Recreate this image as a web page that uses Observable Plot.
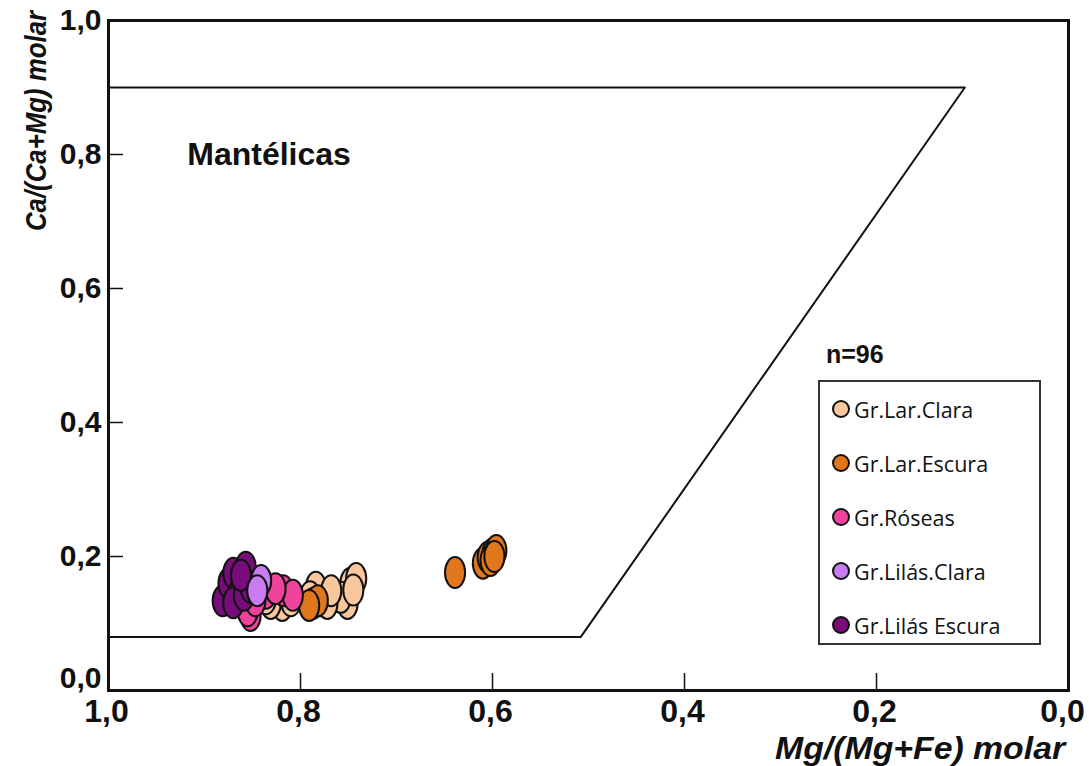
<!DOCTYPE html>
<html>
<head>
<meta charset="utf-8">
<script src="https://cdn.jsdelivr.net/npm/d3@7"></script>
<script src="https://cdn.jsdelivr.net/npm/@observablehq/plot@0.6"></script>
<style>
  html, body { margin: 0; padding: 0; background: #fff; }
  #wrap { position: relative; width: 1089px; height: 766px; overflow: hidden; }
  .ylab { position: absolute; left: 36px; top: 121px; line-height: 1; transform: translate(-50%, -50%) rotate(-90deg) scaleX(0.86);
    font: italic bold 30px "Liberation Sans", Arial, sans-serif; white-space: nowrap; color: #111; }
  .xlab { position: absolute; right: 24px; top: 731px; line-height: 1; transform-origin: right center; transform: scaleX(1.09);
    font: italic bold 31px "Liberation Sans", Arial, sans-serif; white-space: nowrap; color: #111; }
  .nlab { position: absolute; left: 826px; top: 340px; font: bold 25px "Liberation Sans", Arial, sans-serif; color: #111; }
  .legend { position: absolute; left: 818px; top: 380px; width: 223px; height: 265px; border: 2px solid #333; box-sizing: border-box; background: #fff; }
  .item { position: absolute; left: 12px; height: 26px; display: flex; align-items: center;
    font: 21.5px "Open Sans", "Liberation Sans", sans-serif; color: #111; white-space: nowrap; }
  .sw { width: 18px; height: 18px; border-radius: 50%; border: 2px solid #111; box-sizing: border-box; margin-right: 4px; }
</style>
</head>
<body>
<div id="wrap"></div>
<script>
// ---- data ----
const groups = ["Gr.Lar.Clara", "Gr.Lar.Escura", "Gr.Róseas", "Gr.Lilás.Clara", "Gr.Lilás Escura"];
const groupColors = ["#f8c79e", "#e0771c", "#f0449c", "#c97cf2", "#770c7a"];

const larClaraX = [0.748, 0.742, 0.751, 0.758, 0.779, 0.772, 0.784, 0.819, 0.831, 0.810, 0.836, 0.768, 0.745, 0.790];
const larClaraY = [0.160, 0.167, 0.130, 0.139, 0.134, 0.130, 0.154, 0.127, 0.130, 0.134, 0.137, 0.149, 0.150, 0.140];
const larEscuraX = [0.787, 0.782, 0.791, 0.639, 0.610, 0.605, 0.600, 0.596, 0.602, 0.598];
const larEscuraY = [0.130, 0.134, 0.127, 0.176, 0.190, 0.199, 0.204, 0.209, 0.194, 0.200];
const roseasX = [0.818, 0.808, 0.852, 0.855, 0.836, 0.847, 0.826];
const roseasY = [0.149, 0.142, 0.112, 0.119, 0.145, 0.134, 0.152];
const lilasClaraX = [0.841, 0.845];
const lilasClaraY = [0.164, 0.149];
const lilasEscuraX = [0.881, 0.875, 0.870, 0.857, 0.864, 0.870, 0.859, 0.852, 0.862];
const lilasEscuraY = [0.134, 0.160, 0.175, 0.184, 0.145, 0.131, 0.142, 0.154, 0.172];

const fieldX = [1.0, 0.108, 0.508, 1.0];
const fieldY = [0.9, 0.9, 0.08, 0.08];
const tickVals = [0, 0.2, 0.4, 0.6, 0.8, 1.0];
const annotation = [{x: 0.918, y: 0.8, label: "Mantélicas"}];
const sampleCount = "n=96";

// ---- build tables ----
const series = [
  [groups[0], larClaraX, larClaraY],
  [groups[1], larEscuraX, larEscuraY],
  [groups[2], roseasX, roseasY],
  [groups[4], lilasEscuraX, lilasEscuraY],
  [groups[3], lilasClaraX, lilasClaraY]
];
const points = series.flatMap(([g, xs, ys]) => xs.map((x, i) => ({group: g, x, y: ys[i]})));
const field = fieldX.map((x, i) => ({x, y: fieldY[i]}));
const fmt = d => d.toFixed(1).replace(".", ",");

const ellipse = {
  draw(context, size) {
    const r = Math.sqrt(size / Math.PI);
    const rx = r * 0.65, ry = r, k = 0.5523;
    context.moveTo(rx, 0);
    context.bezierCurveTo(rx, k * ry, k * rx, ry, 0, ry);
    context.bezierCurveTo(-k * rx, ry, -rx, k * ry, -rx, 0);
    context.bezierCurveTo(-rx, -k * ry, -k * rx, -ry, 0, -ry);
    context.bezierCurveTo(k * rx, -ry, rx, -k * ry, rx, 0);
    context.closePath();
  }
};

const innerTicks = tickVals.filter(v => v > 0 && v < 1);
const ticksNonZero = tickVals.filter(v => v > 0);
const ticksZero = tickVals.filter(v => v === 0);
const tickFont = {fontWeight: "bold", fontFamily: "Liberation Sans, Arial, sans-serif", label: null, tickSize: 0, tickFormat: fmt};

const chart = Plot.plot({
  width: 1089,
  height: 766,
  marginLeft: 108,
  marginRight: 21,
  marginTop: 20,
  marginBottom: 76,
  style: {background: "#fff", color: "#111"},
  x: {domain: [1, 0], label: null},
  y: {domain: [0, 1], label: null},
  color: {domain: groups, range: groupColors},
  marks: [
    Plot.line(field, {x: "x", y: "y", stroke: "#111", strokeWidth: 2}),
    Plot.ruleY(innerTicks, {y: d => d, x1: 1, x2: 1 - 15 / 959, stroke: "#111", strokeWidth: 1.5}),
    Plot.ruleX(innerTicks, {x: d => d, y1: 0, y2: 17 / 670, stroke: "#111", strokeWidth: 1.5}),
    Plot.dot(points, {x: "x", y: "y", fill: "group", stroke: "#111", strokeWidth: 2, r: 15.5, symbol: ellipse}),
    Plot.text(annotation, {x: "x", y: "y", text: "label", textAnchor: "start", fontSize: 32, fontWeight: "bold", fill: "#111",
      fontFamily: "Liberation Sans, Arial, sans-serif"}),
    Plot.axisX({...tickFont, ticks: ticksNonZero, tickPadding: 9, fontSize: 32, dx: -2}),
    Plot.axisX({...tickFont, ticks: ticksZero, tickPadding: 9, fontSize: 32, dx: -6}),
    Plot.axisY({...tickFont, ticks: ticksNonZero, tickPadding: 7, fontSize: 30}),
    Plot.axisY({...tickFont, ticks: ticksZero, tickPadding: 7, fontSize: 30, dy: -12}),
    Plot.frame({stroke: "#111", strokeWidth: 3})
  ]
});

const wrap = document.getElementById("wrap");
wrap.appendChild(chart);

const ylab = document.createElement("div");
ylab.className = "ylab"; ylab.textContent = "Ca/(Ca+Mg) molar"; wrap.appendChild(ylab);
const xlab = document.createElement("div");
xlab.className = "xlab"; xlab.textContent = "Mg/(Mg+Fe) molar"; wrap.appendChild(xlab);
const nlab = document.createElement("div");
nlab.className = "nlab"; nlab.textContent = sampleCount; wrap.appendChild(nlab);

const legend = document.createElement("div");
legend.className = "legend";
groups.forEach((g, i) => {
  const it = document.createElement("div");
  it.className = "item";
  it.style.top = (14 + i * 54) + "px";
  const sw = document.createElement("span");
  sw.className = "sw"; sw.style.background = groupColors[i];
  it.appendChild(sw);
  it.appendChild(document.createTextNode(g));
  legend.appendChild(it);
});
wrap.appendChild(legend);
</script>
</body>
</html>
